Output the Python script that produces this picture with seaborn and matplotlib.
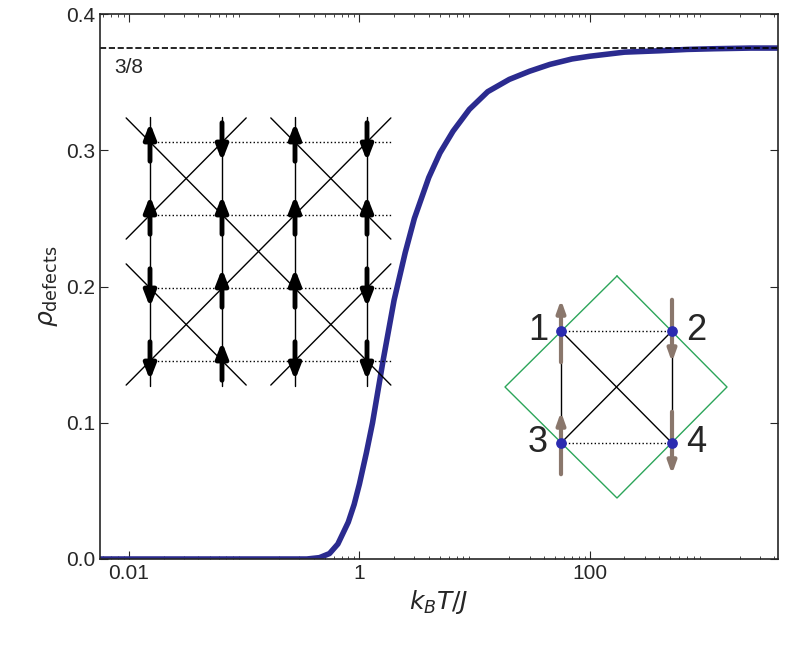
import numpy as np
import pandas as pd
import matplotlib.pyplot as plt
import seaborn as sns

# curve values
temps = [0.005, 0.05, 0.2, 0.35, 0.45, 0.55, 0.65, 0.8, 0.9, 1.0, 1.15, 1.3, 1.6, 2.0,
         2.5, 3.0, 4.0, 5.0, 6.5, 9.0, 13, 20, 30, 45, 70, 100, 200, 400, 700, 1200, 2500, 4300]
rho = [0.0, 0.0, 0.0, 0.0, 0.001, 0.004, 0.011, 0.027, 0.040, 0.055, 0.078, 0.100, 0.145,
       0.190, 0.225, 0.250, 0.280, 0.298, 0.314, 0.330, 0.343, 0.352, 0.358, 0.363, 0.367,
       0.369, 0.372, 0.373, 0.374, 0.3745, 0.375, 0.375]
limit = 3 / 8

df = pd.DataFrame({'T': temps, 'rho': rho})

sns.set_style('ticks')
plt.rcParams['font.family'] = ['Liberation Sans', 'DejaVu Sans']
fig = plt.figure(figsize=(7.89, 6.47), dpi=100)
ax = fig.add_axes([100 / 789, 1 - 559 / 647, 678 / 789, 545 / 647])
sns.lineplot(data=df, x='T', y='rho', ax=ax, color='#2b2b8f', lw=4)
ax.axhline(limit, color='black', ls='--', lw=1.2)
ax.set_xscale('log')
ax.set_xlim(0.0056, 4300)
ax.set_ylim(0, 0.4)
ax.set_xticks([0.01, 1, 100])
ax.set_xticklabels(['0.01', '1', '100'])
ax.set_yticks([0, 0.1, 0.2, 0.3, 0.4])
ax.set_yticklabels(['0.0', '0.1', '0.2', '0.3', '0.4'])
ax.tick_params(direction='in', labelsize=15, top=True, right=True, which='both')
ax.tick_params(which='major', length=6)
for s in ax.spines.values():
    s.set_linewidth(1.2)
ax.set_xlabel(r'$k_BT/J$', fontsize=18)
ax.set_ylabel(r'$\rho_{\mathrm{defects}}$', fontsize=18)
ax.text(0.0075, 0.357, '3/8', fontsize=15)

# overlay for the spin diagrams, in pixel units
ov = fig.add_axes([0, 0, 1, 1])
ov.set_xlim(0, 789)
ov.set_ylim(647, 0)
ov.axis('off')

cols = [150, 222, 295, 367]
rows = [142, 215, 288, 361]
dx = (cols[-1] - cols[0]) / 3
dy = (rows[-1] - rows[0]) / 3
for r in rows:
    ov.plot([cols[0], cols[-1] + 25], [r, r], 'k:', lw=1)
for c in cols:
    ov.plot([c, c], [rows[0] - 25, rows[-1] + 25], 'k-', lw=1)


def g2p(c, r):
    return cols[0] + c * dx, rows[0] + r * dy


lo, hi = -0.33, 3.33
for k in [-2, 0, 2]:  # c - r = k
    c0, c1 = max(lo, lo + k), min(hi, hi + k)
    p0, p1 = g2p(c0, c0 - k), g2p(c1, c1 - k)
    ov.plot([p0[0], p1[0]], [p0[1], p1[1]], 'k-', lw=1)
for k in [1, 3, 5]:  # c + r = k
    c0, c1 = max(lo, k - hi), min(hi, k - lo)
    p0, p1 = g2p(c0, k - c0), g2p(c1, k - c1)
    ov.plot([p0[0], p1[0]], [p0[1], p1[1]], 'k-', lw=1)

spins = [[1, 1, -1, -1], [-1, 1, 1, 1], [1, 1, 1, -1], [-1, 1, -1, -1]]
for ci, c in enumerate(cols):
    for ri, r in enumerate(rows):
        s = spins[ci][ri]
        ov.annotate('', xy=(c, r - 22 * s), xytext=(c, r + 22 * s),
                    arrowprops=dict(arrowstyle='-|>,head_width=0.35,head_length=0.9',
                                    color='black', lw=3.5))

# plaquette inset
sites_x = [561, 672, 561, 672]
sites_y = [331, 331, 443, 443]
ov.plot([617, 727, 617, 505, 617], [276, 387, 498, 387, 276], color='#2ca55a', lw=1)
ov.plot([561, 561], [331, 443], 'k-', lw=1)
ov.plot([672, 672], [331, 443], 'k-', lw=1)
ov.plot([561, 672], [331, 443], 'k-', lw=1)
ov.plot([672, 561], [331, 443], 'k-', lw=1)
ov.plot([561, 672], [331, 331], 'k:', lw=1)
ov.plot([561, 672], [443, 443], 'k:', lw=1)
pspins = [1, -1, 1, -1]
for x, y, s in zip(sites_x, sites_y, pspins):
    ov.annotate('', xy=(x, y - 34 * s), xytext=(x, y + 34 * s),
                arrowprops=dict(arrowstyle='-|>,head_width=0.25,head_length=0.7',
                                color='#8a776c', lw=3))
ov.scatter(sites_x, sites_y, s=45, color='#2b2bb0', zorder=5)
for lbl, x, y, ha in zip(['1', '2', '3', '4'], [548, 686, 548, 686], sites_y,
                         ['right', 'left', 'right', 'left']):
    ov.text(x, y, lbl, fontsize=26, ha=ha, va='center')

fig.savefig('out.png', dpi=100)
